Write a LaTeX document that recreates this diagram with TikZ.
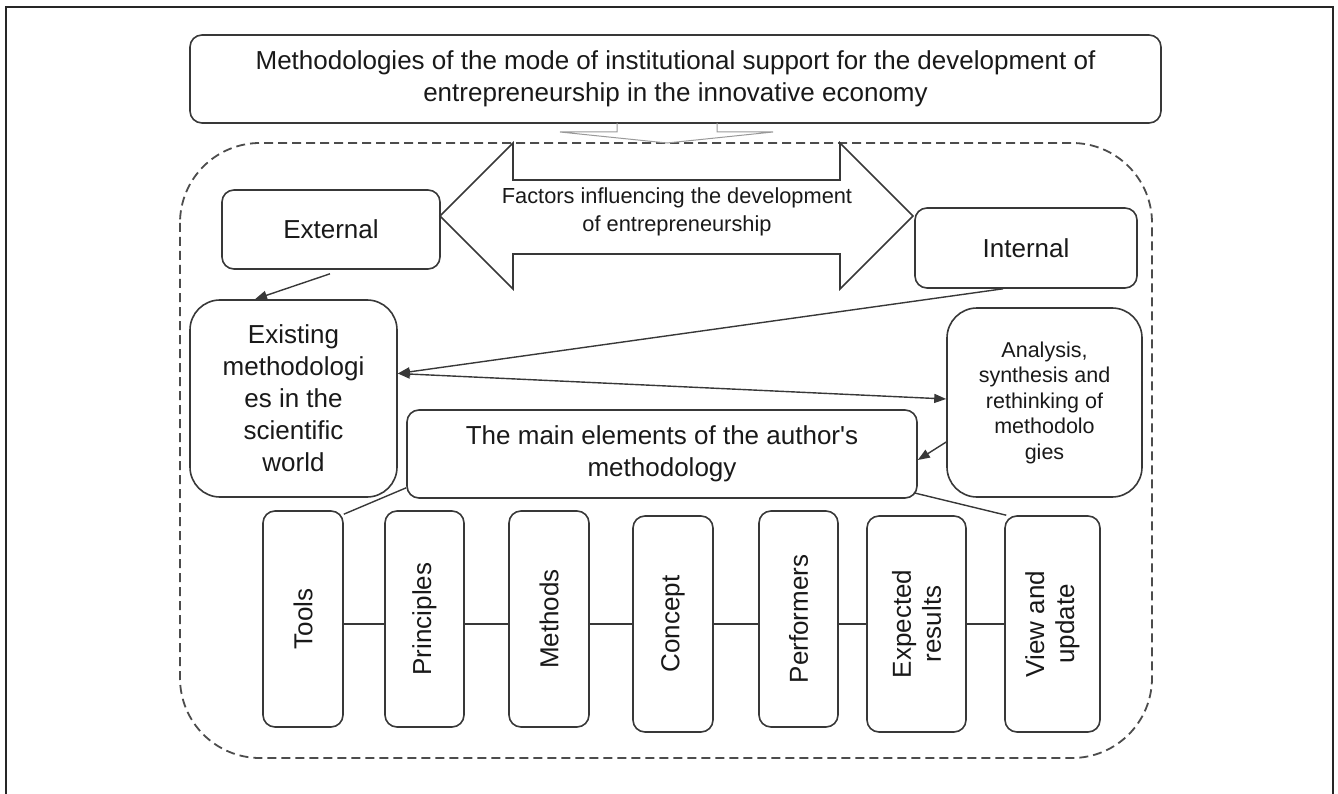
\documentclass[tikz,border=0pt]{standalone}
\usepackage{fontspec}
\setmainfont{Liberation Sans}
\usetikzlibrary{arrows.meta,calc}
\begin{document}
\begin{tikzpicture}[x=1pt,y=-1pt,
  ln/.style={draw=black!78, line width=1.6pt},
  box/.style={ln, rounded corners=12pt, inner sep=0pt, align=center, text=black!90,
    font=\fontsize{26}{32}\selectfont},
  bigbox/.style={box, rounded corners=30pt},
  smalltxt/.style={font=\fontsize{21.5}{25.5}\selectfont},
  vbox/.style={box, minimum height=216pt},
  vlab/.style={rotate=90, align=center, text=black!90, font=\fontsize{26}{30}\selectfont},
  arr/.style={ln, line width=1.4pt, -{Triangle[length=12pt,width=9pt]}},
  darr/.style={ln, line width=1.4pt, {Triangle[length=12pt,width=9pt]}-{Triangle[length=12pt,width=9pt]}},
  conn/.style={ln, line width=1.4pt}
]
\useasboundingbox (0,0) rectangle (1338,794);
% outer frame
\draw[black!85, line width=2.2pt] (6,794) -- (6,7) -- (1333,7) -- (1333,794);

% dashed region
\draw[black!70, line width=1.8pt, dash pattern=on 9pt off 5pt, rounded corners=80pt]
  (180,143) rectangle (1152,758);

% title
\node[box, minimum width=971pt, minimum height=88pt] (title) at (675.5,79)
  {Methodologies of the mode of institutional support for the development of\\
   entrepreneurship in the innovative economy};
% faint arrow under title
\draw[black!40, line width=1pt] (617,123) -- (617,132) -- (560,132) -- (667,143)
  -- (773,132) -- (717,132) -- (717,123);

% double arrow
\draw[ln] (440,216) -- (513,143) -- (513,180) -- (840,180) -- (840,143) -- (913,216)
  -- (840,289) -- (840,254) -- (513,254) -- (513,289) -- cycle;
\node[align=center, text=black!90, font=\fontsize{21.8}{27.5}\selectfont] (factors) at (677,212)
  {Factors influencing the development\\of entrepreneurship};

% side boxes
\node[box, minimum width=218pt, minimum height=79pt] (ext) at (331,229.5) {External};
\node[box, minimum width=222pt, minimum height=80pt] (int) at (1026,248) {Internal};
\node[bigbox, minimum width=207pt, minimum height=197pt] (exist) at (293.5,398.5)
  {Existing\\methodologi\\es in the\\scientific\\world};
\node[bigbox, smalltxt, minimum width=195pt, minimum height=189pt] (anal) at (1044.5,402.5)
  {Analysis,\\synthesis and\\rethinking of\\methodolo\\gies};
\node[box, minimum width=510pt, minimum height=88pt] (main) at (662,454)
  {The main elements of the author\textquotesingle s\\methodology};

% vertical boxes
\node[vbox, minimum width=80pt, label={[vlab]center:Tools}] (tools) at (303,619) {};
\node[vbox, minimum width=79pt, label={[vlab]center:Principles}] (princ) at (424.5,619) {};
\node[vbox, minimum width=80pt, label={[vlab]center:Methods}] (meth) at (549,619) {};
\node[vbox, minimum width=80pt, label={[vlab]center:Concept}] (conc) at (673,624) {};
\node[vbox, minimum width=79pt, label={[vlab]center:Performers}] (perf) at (798.5,619) {};
\node[vbox, minimum width=99pt, label={[vlab]center:{Expected\\results}}] (expr) at (916.5,624) {};
\node[vbox, minimum width=95pt, label={[vlab]center:{View and\\update}}] (view) at (1052.5,624) {};

\coordinate (mid) at (0,624);
\draw[conn] (tools.east |- mid) -- (princ.west |- mid);
\draw[conn] (princ.east |- mid) -- (meth.west |- mid);
\draw[conn] (meth.east |- mid) -- (conc.west |- mid);
\draw[conn] (conc.east |- mid) -- (perf.west |- mid);
\draw[conn] (perf.east |- mid) -- (expr.west |- mid);
\draw[conn] (expr.east |- mid) -- (view.west |- mid);

% connectors
\draw[arr] ([xshift=-1pt,yshift=-4pt]ext.south) -- ([xshift=-38.5pt]exist.north);
\draw[arr] ([xshift=-23pt]int.south) -- ([yshift=25pt]exist.east);
\draw[darr] ([yshift=25pt]exist.east) -- ([yshift=3.5pt]anal.west);
\draw[arr] ([yshift=-39.5pt]anal.west) -- ([yshift=-6pt]main.east);
\draw[conn] ([yshift=11pt]main.south west) -- ([yshift=-4pt]tools.north east);
\draw[conn] ([xshift=-4pt,yshift=6pt]main.south east) -- ([xshift=2pt]view.north west);
\end{tikzpicture}
\end{document}
